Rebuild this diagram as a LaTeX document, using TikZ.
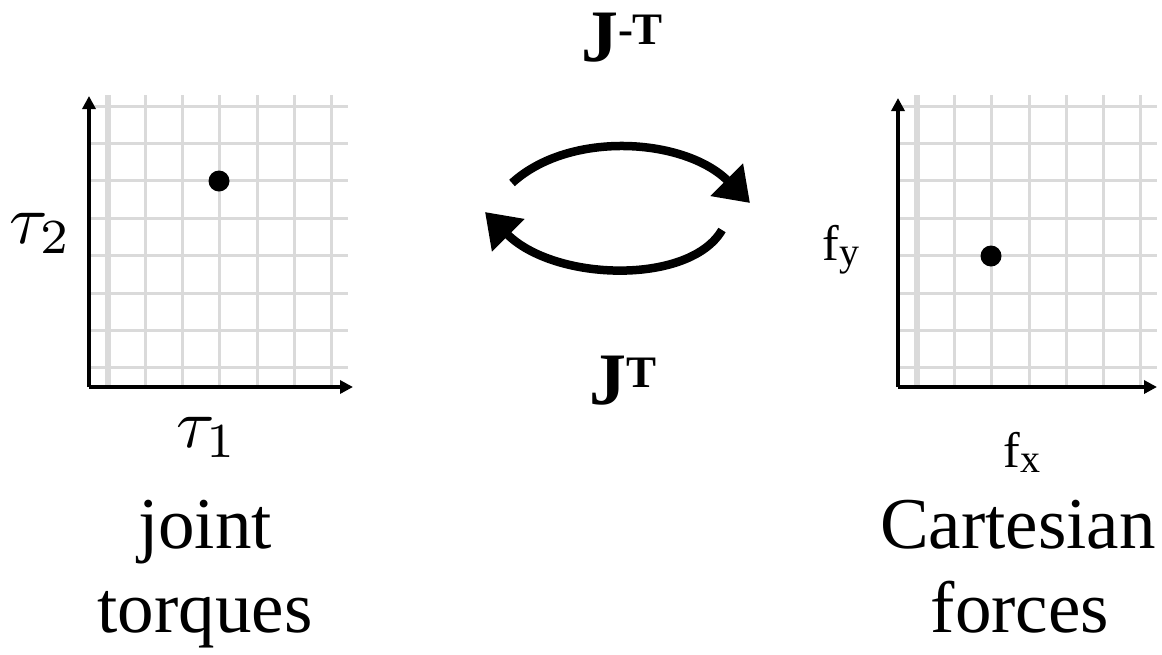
\documentclass[tikz,border=0pt]{standalone}
\usepackage{graphicx}
\usepackage[no-math]{fontspec}
\setmainfont{Liberation Serif}
\usetikzlibrary{arrows.meta, positioning}
\definecolor{GridGray}  {RGB}{218, 218, 218}
\definecolor{AxisBlack} {RGB}{  0,   0,   0}
\tikzset{
  % Light grid line of a plot
  gridline/.style={
    draw=GridGray, line width=3pt
  },
  % First grid line next to the vertical axis
  gridedge/.style={
    draw=GridGray, line width=6pt
  },
  % Plot axes
  axisline/.style={
    -{Triangle[length=13pt, width=13pt]}, line width=4pt, color=AxisBlack
  },
  % Sample point in a plot
  samplept/.style={
    circle, fill=black, inner sep=0pt, minimum size=21pt
  },
  % Mapping arrows between the two spaces
  maparrow/.style={
    -{Triangle[length=33pt, width=44pt]}, line width=8.5pt, color=AxisBlack
  },
  % Captions under the plots
  caption/.style={
    font=\fontsize{73}{84}\selectfont, anchor=base, inner sep=0pt
  },
  % Axis names (math, scaled up from 10pt)
  mathlbl/.style={
    anchor=base, inner sep=0pt
  },
  forcelbl/.style={
    font=\fontsize{50}{50}\selectfont, anchor=base, inner sep=0pt
  },
  % Jacobian labels
  jaclbl/.style={
    font=\fontsize{74}{74}\selectfont\bfseries, anchor=base, inner sep=0pt
  }
}
\newcommand{\fsub}[1]{f\raisebox{-5pt}{\fontsize{40}{40}\selectfont #1}}
\newcommand{\jsup}[1]{J\raisebox{17pt}{\fontsize{45}{45}\selectfont #1}}
\newcommand{\bigmath}[1]{\scalebox{7}{$#1$}}

\begin{document}
\begin{tikzpicture}[x=1pt, y=-1pt]

  \useasboundingbox (0,0) rectangle (1162,654);

  % ── GRIDS (left plot, then right plot) ───────────────────────────────────
  \foreach \ox in {0,809} {
    \foreach \j in {0,...,7}
      \draw[gridline] (\ox+89,{106+37.4*\j}) -- (\ox+348,{106+37.4*\j});
    \foreach \i in {1,...,6}
      \draw[gridline] ({\ox+108+37.33*\i},95) -- ({\ox+108+37.33*\i},387);
    \draw[gridedge] (\ox+108,95) -- (\ox+108,387);
  }

  % ── LEFT PLOT: joint torques ─────────────────────────────────────────────
  \coordinate (l_origin) at (89,387);
  \coordinate (l_ytip)   at (89,96);
  \coordinate (l_xtip)   at (353,387);
  \draw[axisline] (l_origin) -- (l_ytip);
  \draw[axisline] (l_origin) -- (l_xtip);

  \node[samplept] (l_pt) at (219,181) {};

  \node[mathlbl] (tau2) at (41,243)  {\bigmath{\tau_2}};
  \node[mathlbl] (tau1) at (207,447) {\bigmath{\tau_1}};

  \node[caption] (joint_lbl)  at (205,548) {joint};
  \node[caption] (torque_lbl) at (205,632) {torques};

  % ── RIGHT PLOT: Cartesian forces ─────────────────────────────────────────
  \coordinate (r_origin) at (898,387);
  \coordinate (r_ytip)   at (898,98);
  \coordinate (r_xtip)   at (1157,387);
  \draw[axisline] (r_origin) -- (r_ytip);
  \draw[axisline] (r_origin) -- (r_xtip);

  \node[samplept] (r_pt) at (991,256) {};

  \node[forcelbl] (fy) at (841,260)  {\fsub{y}};
  \node[forcelbl] (fx) at (1022,467) {\fsub{x}};

  \node[caption] (cart_lbl)  at (1018,548) {Cartesian};
  \node[caption] (force_lbl) at (1020,632) {forces};

  % ── MAPPINGS: J^{-T} on top, J^{T} below ─────────────────────────────────
  \node[jaclbl] (jinvt) at (622,61)  {\jsup{-T}};
  \node[jaclbl] (jt)    at (623,404) {\jsup{T}};

  \coordinate (top_from) at (512,183);
  \coordinate (top_to)   at (750,203);
  \coordinate (bot_from) at (722,230);
  \coordinate (bot_to)   at (485,212);

  \draw[maparrow] (top_from) .. controls (570,130) and (685,138) .. (top_to);
  \draw[maparrow] (bot_from) .. controls (690,285) and (555,282) .. (bot_to);

\end{tikzpicture}
\end{document}
